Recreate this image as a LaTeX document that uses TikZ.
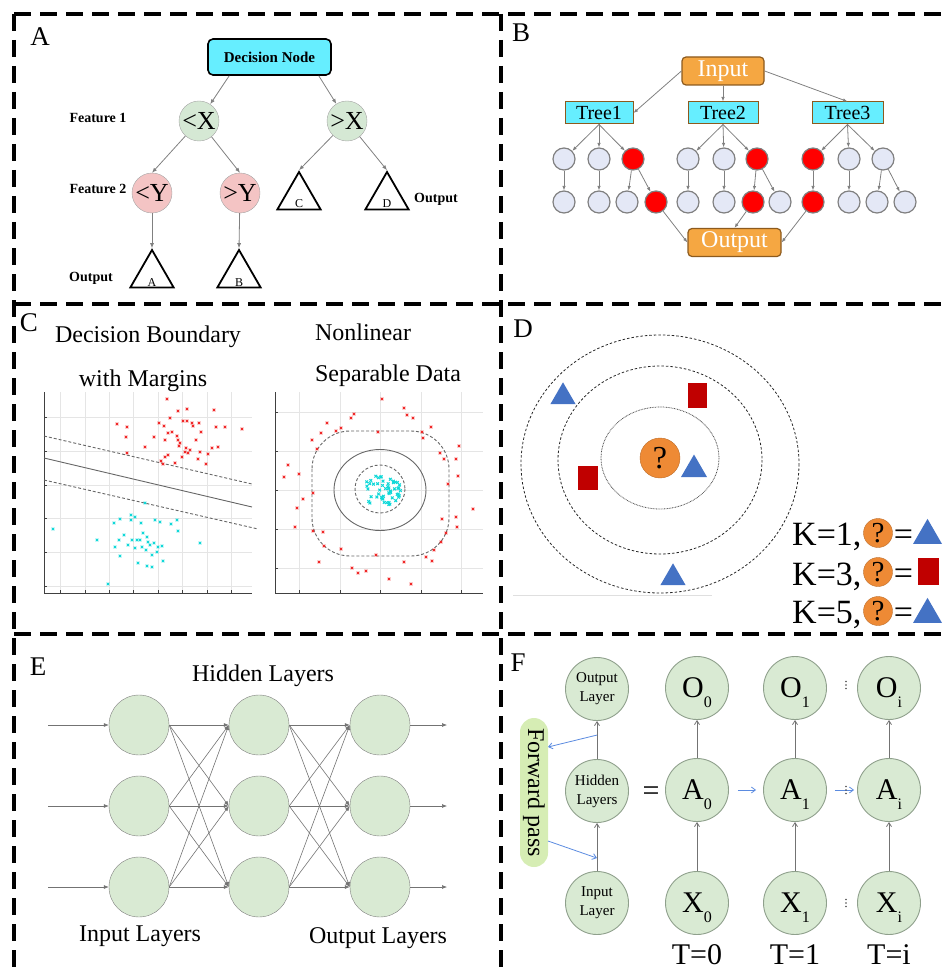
\documentclass[tikz,border=0pt]{standalone}
\usepackage{fontspec}
\setmainfont{Liberation Serif}
\usepackage{tikz}
\usetikzlibrary{arrows.meta,positioning,shapes.geometric,calc}
\definecolor{dtCyan}{HTML}{66EEFF}
\definecolor{dtGreen}{HTML}{D5E8D4}
\definecolor{dtPink}{HTML}{F4C4C4}
\definecolor{rfOrange}{HTML}{F5A742}
\definecolor{rfEdge}{HTML}{8C5A1E}
\definecolor{rfLeaf}{HTML}{E4E8F6}
\definecolor{svmRed}{HTML}{F02828}
\definecolor{svmCyan}{HTML}{10D8D8}
\definecolor{knnOrange}{HTML}{EE8A35}
\definecolor{knnBlue}{HTML}{4472C4}
\definecolor{knnRed}{HTML}{C00000}
\definecolor{nnGreen}{HTML}{D9EAD3}
\definecolor{rnnEdge}{HTML}{8FA08C}
\definecolor{fwdGreen}{HTML}{D6EDB4}
\definecolor{fwdBlue}{HTML}{5B8BE0}
\newcommand{\fsz}[1]{\fontsize{#1}{#1}\selectfont}
\newcommand{\sbs}[2]{#1\smash{\raisebox{-10pt}{\fsz{16}#2}}}
\newcommand{\lowlbl}[1]{\smash{\raisebox{-11pt}{#1}}}
\tikzset{
  panel/.style={line width=4pt, dash pattern=on 17pt off 9pt},
  tag/.style={font=\fsz{27}, inner sep=0pt},
  heading/.style={font=\fsz{24}, inner sep=0pt},
  dt/decision/.style={draw, line width=1.6pt, rounded corners=5pt, fill=dtCyan, minimum width=123pt, minimum height=36pt, inner sep=0pt, font=\bfseries\fsz{15}},
  dt/split/.style={circle, draw=gray!70, fill=dtGreen, minimum size=40pt, inner sep=0pt, font=\fsz{26}},
  dt/split2/.style={dt/split, fill=dtPink},
  dt/leaf/.style={regular polygon, regular polygon sides=3, draw, line width=1.8pt, minimum size=50pt, inner sep=0pt, font=\fsz{12}},
  dt/side/.style={font=\bfseries\fsz{14}, inner sep=0pt},
  dt/arr/.style={-{Latex[length=5pt,width=4pt]}, draw=gray, line width=0.8pt},
  rf/io/.style={draw=rfEdge, line width=1.2pt, rounded corners=4pt, fill=rfOrange, text=white, minimum height=28pt, inner sep=0pt, font=\fsz{24}},
  rf/tree/.style={draw=rfEdge, line width=1pt, fill=dtCyan, minimum height=22pt, inner sep=0pt, font=\fsz{20}},
  rf/leaf/.style={circle, draw=gray, line width=1.2pt, fill=rfLeaf, minimum size=22pt, inner sep=0pt},
  rf/arr/.style={-{Latex[length=4.5pt,width=3.5pt]}, draw=gray, line width=0.8pt},
  svm/grid/.style={draw=gray!20, line width=0.6pt},
  svm/axis/.style={draw=black!75, line width=1pt},
  svm/bound/.style={draw=black!60, line width=0.9pt},
  svm/margin/.style={svm/bound, dash pattern=on 3pt off 2pt},
  svm/red/.style={draw=svmRed, line width=1pt, mark size=1.9pt},
  svm/cyan/.style={draw=svmCyan, line width=1pt, mark size=1.9pt},
  knn/ring/.style={draw=black!85, line width=0.8pt, dash pattern=on 2.5pt off 2pt},
  knn/inner/.style={draw=black!70, line width=0.8pt, dash pattern=on 0.8pt off 0.8pt},
  knn/query/.style={circle, fill=knnOrange, draw=knnOrange!80!black, minimum size=40pt, inner sep=0pt, font=\fsz{32}},
  knn/qsmall/.style={knn/query, minimum size=29pt, font=\fsz{29}},
  knn/tri/.style={regular polygon, regular polygon sides=3, fill=knnBlue, minimum size=30pt, inner sep=0pt},
  knn/sq/.style={fill=knnRed, minimum width=19pt, minimum height=25pt, inner sep=0pt},
  knn/txt/.style={font=\fsz{34}, inner sep=0pt},
  nn/neuron/.style={circle, draw=gray, fill=nnGreen, minimum size=60pt, inner sep=0pt},
  nn/arr/.style={-{Latex[length=5pt,width=4pt]}, draw=black!55, line width=0.6pt},
  rnn/cell/.style={circle, draw=rnnEdge, line width=0.9pt, fill=nnGreen, minimum size=63pt, inner sep=0pt, font=\fsz{30}},
  rnn/small/.style={rnn/cell, align=center, font=\fontsize{15}{19}\selectfont},
  rnn/arr/.style={-{Straight Barb[length=4pt,width=5pt]}, draw=black!55, line width=0.8pt},
  rnn/blue/.style={-{Straight Barb[length=4pt,width=6pt]}, draw=fwdBlue, line width=0.8pt},
  rnn/fwd/.style={rounded corners=14pt, fill=fwdGreen, minimum width=149pt, minimum height=28pt, inner sep=0pt, font=\fsz{24}},
  rnn/time/.style={font=\fsz{30}, inner sep=0pt},
  rnn/dot/.style={fill=black!70}
}

\begin{document}
\begin{tikzpicture}[x=1pt,y=-1pt]
\useasboundingbox (0,0) rectangle (946,976);
\clip (0,0) rectangle (946,976);
\draw[panel] (14,14) -- (950,14);
\draw[panel] (14,304) -- (950,304);
\draw[panel] (14,634) -- (950,634);
\draw[panel] (14,14) -- (14,980);
\draw[panel] (501,14) -- (501,980);

% A: decision tree
\node[tag] (tagA) at (40,37) {A};
\node[dt/decision] (dec) at (269.5,57) {Decision Node};
\node[dt/split] (lx) at (199,121) {\textless X};
\node[dt/split] (rx) at (347,121) {\textgreater X};
\node[dt/split2] (ly) at (152,193) {\textless Y};
\node[dt/split2] (ry) at (240,193) {\textgreater Y};
\node[dt/leaf] (lfC) at (299,197) {\lowlbl{C}};
\node[dt/leaf] (lfD) at (387,197) {\lowlbl{D}};
\node[dt/leaf] (lfA) at (152,275) {\lowlbl{A}};
\node[dt/leaf] (lfB) at (239,275) {\lowlbl{B}};
\node[dt/side] (feat1) at (98,118) {Feature 1};
\node[dt/side] (feat2) at (98,189) {Feature 2};
\node[dt/side] (outA) at (91,278) {Output};
\node[dt/side] (outD) at (436,199) {Output};
\draw[dt/arr] ([xshift=22pt]dec.south west) -- (lx);
\draw[dt/arr] ([xshift=-13pt]dec.south east) -- (rx);
\draw[dt/arr] (lx) -- (ly.north);
\draw[dt/arr] (lx) -- (ry.north);
\draw[dt/arr] (rx) -- (lfC.corner 1);
\draw[dt/arr] (rx) -- (lfD.corner 1);
\draw[dt/arr] (ly) -- (lfA.corner 1);
\draw[dt/arr] (ry) -- (lfB.corner 1);

% B: random forest
\node[tag] (tagB) at (521,33) {B};
\node[rf/io, minimum width=82pt] (inp) at (723,71) {Input};
\node[rf/tree, minimum width=68pt] (tr1) at (599,113) {Tree1};
\node[rf/tree, minimum width=70pt] (tr2) at (723,113) {Tree2};
\node[rf/tree, minimum width=71pt] (tr3) at (847.5,113) {Tree3};
\foreach \x/\c [count=\i] in {564/rfLeaf,599/rfLeaf,633/red,688/rfLeaf,724/rfLeaf,757/red,813/red,849/rfLeaf,883/rfLeaf}
  \node[rf/leaf, fill=\c] (top\i) at (\x,159) {};
\foreach \x/\c [count=\i] in {564/rfLeaf,599/rfLeaf,627/rfLeaf,656/red,688/rfLeaf,724/rfLeaf,753/red,780/rfLeaf,813/red,849/rfLeaf,877/rfLeaf,905/rfLeaf}
  \node[rf/leaf, fill=\c] (bot\i) at (\x,202) {};
\node[rf/io, minimum width=93pt] (outp) at (734.5,242.5) {Output};
\draw[rf/arr] (inp.west) -- (tr1.east);
\draw[rf/arr] (inp) -- (tr2);
\draw[rf/arr] (inp.east) -- (tr3.north);
\foreach \t/\i in {1/1,1/2,1/3,2/4,2/5,2/6,3/7,3/8,3/9}
  \draw[rf/arr] (tr\t.south) -- (top\i);
\foreach \i/\j in {1/1,2/2,3/3,3/4,4/5,5/6,6/7,6/8,7/9,8/10,9/11,9/12}
  \draw[rf/arr] (top\i) -- (bot\j);
\draw[rf/arr] (bot4) -- (outp.west);
\draw[rf/arr] (bot7) -- (outp.north);
\draw[rf/arr] (bot9) -- (outp.east);

% C: SVM
\node[tag] (tagC) at (29,323) {C};
\node[heading] (hC1) at (148,337) {Decision Boundary};
\node[heading] (hC2) at (143,381) {with Margins};
\node[heading] (hC3) at (363,332) {Nonlinear};
\node[heading] (hC4) at (388,376) {Separable Data};
\draw[svm/grid] foreach \gx in {60,85,109,133,158,182,207,231} {(\gx,392) -- (\gx,593)};
\draw[svm/grid] foreach \gy in {417,451,485,518,552,586} {(44,\gy) -- (252,\gy)};
\draw[svm/axis] (44,392) -- (44,593) -- (252,593);
\draw[svm/axis] foreach \gx in {60,85,109,133,158,182,207,231} {(\gx,593) -- (\gx,590)}
  foreach \gy in {417,451,485,518,552,586} {(44,\gy) -- (47,\gy)};
\draw[svm/grid] foreach \gx in {299,340,380,421,461} {(\gx,392) -- (\gx,593)};
\draw[svm/grid] foreach \gy in {412,451,490,529,568} {(275,\gy) -- (483,\gy)};
\draw[svm/axis] (275,392) -- (275,593) -- (483,593);
\draw[svm/axis] foreach \gx in {299,340,380,421,461} {(\gx,593) -- (\gx,590)}
  foreach \gy in {412,451,490,529,568} {(275,\gy) -- (278,\gy)};
\draw[svm/bound] (44,458) -- (252,507);
\draw[svm/margin] (44,436) -- (252,484);
\draw[svm/margin] (44,480) -- (258,529);
\draw[svm/red] plot[only marks, mark=x] coordinates {(167,399) (117,424) (127,427) (126,437) (127,453) (145,447) (154,437) (159,423) (164,426) (170,418) (165,457) (163,464) (175,463) (178,411) (187,409) (183,421) (187,421) (192,423) (193,426) (199,423) (201,432) (200,452) (206,464) (198,459) (208,454) (212,448) (218,447) (214,410) (216,427) (225,427) (242,429) (178,440) (180,443) (182,457) (185,452) (188,453) (190,450) (168,433) (172,432) (165,440) (177,436) (179,446) (186,448) (168,455) (196,440) (161,461)};
\draw[svm/cyan] plot[only marks, mark=x] coordinates {(145,503) (53,529) (97,540) (114,523) (120,519) (131,515) (135,517) (131,520) (141,523) (155,520) (160,522) (171,524) (177,520) (178,531) (200,543) (115,547) (119,540) (124,535) (128,545) (132,540) (135,548) (140,540) (143,533) (147,537) (142,547) (146,550) (150,545) (154,543) (158,547) (162,546) (157,552) (152,555) (120,556) (138,563) (147,566) (152,567) (163,561) (108,584) (137,540) (148,542)};
\draw[svm/margin] (380,489) ellipse [x radius=25, y radius=24];
\draw[svm/bound] (380,490) ellipse [x radius=46, y radius=40.5];
\draw[svm/margin, rounded corners=38pt] (312,431) rectangle (449,556);
\draw[svm/red] plot[only marks, mark=x] coordinates {(382,399) (404,408) (407,415) (413,418) (351,418) (354,414) (327,423) (321,433) (336,431) (341,428) (378,432) (422,432) (423,438) (431,427) (312,440) (317,449) (288,465) (284,477) (299,474) (440,453) (444,459) (456,459) (459,446) (458,476) (448,484) (313,493) (303,499) (297,508) (295,527) (313,531) (323,532) (324,546) (341,549) (376,555) (352,568) (358,573) (366,571) (389,579) (411,584) (404,562) (426,557) (432,561) (434,550) (441,542) (446,533) (442,519) (456,517) (457,527) (473,509) (319,562)};
\pgfmathsetseed{7}
\foreach \k in {1,...,55} {
  \pgfmathsetmacro{\ang}{rand*180}
  \pgfmathsetmacro{\rad}{19*sqrt(rnd)}
  \draw[svm/cyan] plot[only marks, mark=x] coordinates {({382+\rad*cos(\ang)},{491+0.85*\rad*sin(\ang)})};
}

% D: kNN
\node[tag] (tagD) at (523,329) {D};
\draw[knn/ring] (660,464) ellipse [x radius=139, y radius=129];
\draw[knn/ring] (660,460) ellipse [x radius=102, y radius=94];
\draw[knn/inner] (660,458) ellipse [x radius=59, y radius=51];
\draw[gray!25, line width=0.6pt] (513,595) -- (712,595);
\node[knn/query] (qry) at (660,458) {?};
\node[knn/tri, minimum size=30pt] (nb1) at (694,469.5) {};
\node[knn/tri, minimum size=29pt] (nb2) at (563,396.8) {};
\node[knn/tri, minimum size=29pt] (nb3) at (673,577.8) {};
\node[knn/sq] (nb4) at (697.5,395.5) {};
\node[knn/sq, minimum width=20pt, minimum height=24pt] (nb5) at (588,478) {};
\node[knn/txt, anchor=base west] (k1) at (792,545) {K=1,};
\node[knn/qsmall] (k1q) at (878,533) {?};
\node[knn/txt, right=1pt of k1q, yshift=-5pt] (k1e) {=};
\node[knn/tri, minimum size=33.5pt] (k1r) at (927.5,535.6) {};
\node[knn/txt, anchor=base west] (k3) at (792,585) {K=3,};
\node[knn/qsmall] (k3q) at (878,572) {?};
\node[knn/txt, right=1pt of k3q, yshift=-5pt] (k3e) {=};
\node[knn/sq, minimum width=21pt, minimum height=27pt] (k3r) at (928.5,571.5) {};
\node[knn/txt, anchor=base west] (k5) at (792,623) {K=5,};
\node[knn/qsmall] (k5q) at (878,611) {?};
\node[knn/txt, right=1pt of k5q, yshift=-5pt] (k5e) {=};
\node[knn/tri, minimum size=33.5pt] (k5r) at (927.5,614.6) {};

% E: neural network
\node[tag] (tagE) at (38,667) {E};
\node[heading] (hidE) at (263,676) {Hidden Layers};
\foreach \x [count=\c] in {139,259,380}
  \foreach \y [count=\r] in {725,806,887}
    \node[nn/neuron] (n\c\r) at (\x,\y) {};
\foreach \y [count=\r] in {725,806,887} {
  \coordinate (nin\r) at (48,\y);
  \coordinate (nout\r) at (447,\y);
  \draw[nn/arr] (nin\r) -- (n1\r);
  \draw[nn/arr] (n3\r) -- (nout\r);
}
\foreach \i in {1,2,3}
  \foreach \j in {1,2,3} {
    \draw[nn/arr] (n1\i.east) -- (n2\j.west);
    \draw[nn/arr] (n2\i.east) -- (n3\j.west);
  }
\node[heading] (inE) at (140,936) {Input Layers};
\node[heading] (outE) at (378,938) {Output Layers};

% F: recurrent network
\node[tag] (tagF) at (518,663) {F};
\node[rnn/small] (outL) at (597,689) {Output\\Layer};
\node[rnn/small] (hidL) at (597,791) {Hidden\\Layers};
\node[rnn/small] (inL) at (597,903) {Input\\Layer};
\draw[rnn/arr] (inL) -- (hidL);
\draw[rnn/arr] (hidL) -- (outL);
\foreach \x/\s in {697/0,795/1,889/i} {
  \node[rnn/cell] (o\s) at (\x,688) {\sbs{O}{\s}};
  \node[rnn/cell] (a\s) at (\x,790) {\sbs{A}{\s}};
  \node[rnn/cell] (x\s) at (\x,903) {\sbs{X}{\s}};
  \node[rnn/time] (t\s) at (\x,955) {T=\s};
  \draw[rnn/arr] (x\s) -- (a\s);
  \draw[rnn/arr] (a\s) -- (o\s);
}
\node[rnn/time, yshift=-4pt] (eqF) at (651,790) {=};
\draw[rnn/blue, shorten <=9pt, shorten >=7pt] (a0) -- (a1);
\draw[rnn/blue, shorten <=8pt, shorten >=3pt] (a1) -- (ai);
\foreach \y in {685,790,903}
  \fill[rnn/dot] foreach \d in {-3.5,0,3.5} {(846,\y+\d) circle (0.8)};
\node[rnn/fwd, rotate=-90] (fwd) at (534,792.5) {Forward pass};
\coordinate (fp1) at ($(hidL.north)!0.63!(outL.south)$);
\coordinate (fpa) at (548,747);
\coordinate (fpb) at (548,841);
\coordinate (fp3) at ($(inL.north)!0.27!(hidL.south)$);
\draw[rnn/blue] (fp1) -- (fpa);
\draw[rnn/blue] (fpb) -- (fp3);
\end{tikzpicture}
\end{document}
